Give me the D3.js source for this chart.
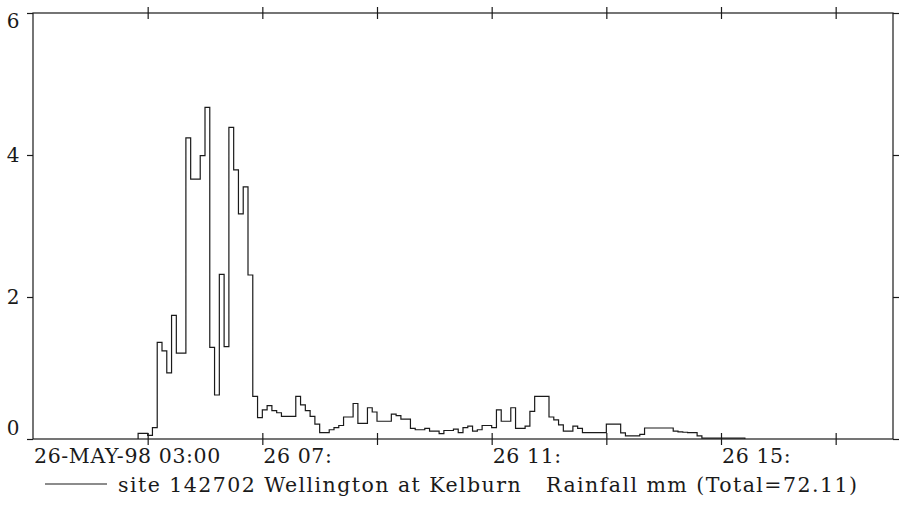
<!DOCTYPE html>
<html>
<head>
<meta charset="utf-8">
<script src="https://cdn.jsdelivr.net/npm/d3@7"></script>
<style>
  html, body { margin: 0; padding: 0; background: #fff; }
  svg { display: block; }
  text { font-family: "DejaVu Serif", "Liberation Serif", serif; fill: #1a1a1a; }
</style>
</head>
<body>
<div id="chart"></div>
<script>
// 5-minute rainfall totals (mm), each value starts at its time, 26-May-1998
const stepTimes = [
  "04:50", "04:55",
  "05:00", "05:05", "05:10", "05:15", "05:20", "05:25", "05:30", "05:35", "05:40", "05:45", "05:50", "05:55",
  "06:00", "06:05", "06:10", "06:15", "06:20", "06:25", "06:30", "06:35", "06:40", "06:45", "06:50", "06:55",
  "07:00", "07:05", "07:10", "07:15", "07:20", "07:25", "07:30", "07:35", "07:40", "07:45", "07:50", "07:55",
  "08:00", "08:05", "08:10", "08:15", "08:20", "08:25", "08:30", "08:35", "08:40", "08:45", "08:50", "08:55",
  "09:00", "09:05", "09:10", "09:15", "09:20", "09:25", "09:30", "09:35", "09:40", "09:45", "09:50", "09:55",
  "10:00", "10:05", "10:10", "10:15", "10:20", "10:25", "10:30", "10:35", "10:40", "10:45", "10:50", "10:55",
  "11:00", "11:05", "11:10", "11:15", "11:20", "11:25", "11:30", "11:35", "11:40", "11:45", "11:50", "11:55",
  "12:00", "12:05", "12:10", "12:15", "12:20", "12:25", "12:30", "12:35", "12:40", "12:45", "12:50", "12:55",
  "13:00", "13:05", "13:10", "13:15", "13:20", "13:25", "13:30", "13:35", "13:40", "13:45", "13:50", "13:55",
  "14:00", "14:05", "14:10", "14:15", "14:20", "14:25", "14:30", "14:35", "14:40", "14:45", "14:50", "14:55",
  "15:00", "15:05", "15:10", "15:15", "15:20"
];
const rainfall = [
  0.08, 0.08,
  0.05, 0.16, 1.36, 1.24, 0.93, 1.74, 1.21, 1.21, 4.24, 3.66, 3.66, 3.99,
  4.67, 1.29, 0.62, 2.32, 1.30, 4.39, 3.79, 3.17, 3.55, 2.31, 0.60, 0.30,
  0.41, 0.47, 0.40, 0.37, 0.32, 0.32, 0.32, 0.60, 0.48, 0.40, 0.32, 0.21,
  0.09, 0.09, 0.13, 0.16, 0.19, 0.31, 0.31, 0.50, 0.22, 0.22, 0.44, 0.38,
  0.25, 0.25, 0.25, 0.35, 0.33, 0.28, 0.28, 0.15, 0.13, 0.13, 0.15, 0.11,
  0.11, 0.075, 0.12, 0.12, 0.14, 0.09, 0.16, 0.18, 0.11, 0.13, 0.19, 0.19,
  0.16, 0.41, 0.25, 0.25, 0.44, 0.15, 0.15, 0.18, 0.39, 0.60, 0.60, 0.60,
  0.31, 0.27, 0.20, 0.11, 0.11, 0.18, 0.15, 0.09, 0.09, 0.09, 0.09, 0.09,
  0.21, 0.21, 0.21, 0.085, 0.045, 0.045, 0.045, 0.065, 0.155, 0.155, 0.155, 0.155,
  0.155, 0.155, 0.11, 0.10, 0.095, 0.09, 0.09, 0.045, 0.012, 0.012, 0.012, 0.012,
  0.012, 0.012, 0.012, 0.012, 0.012
];
const endTime = "15:25";

const timeDomain = ["03:00", "18:00"];
const yTicks = [0, 2, 4, 6];
const xTickTimes = ["05:00", "07:00", "09:00", "11:00", "13:00", "15:00", "17:00"];
const xLabelTimes = ["03:00", "07:00", "11:00", "15:00"];
const xLabelTexts = ["26-MAY-98 03:00", "26 07:", "26 11:", "26 15:"];
const legendText = "site 142702 Wellington at Kelburn   Rainfall mm (Total=72.11)";

const parseTime = t => d3.timeParse("%Y-%m-%d %H:%M")("1998-05-26 " + t);

const width = 899;
const height = 507;
const margin = { top: 13, right: 6, bottom: 68, left: 33 };
const ink = "#1a1a1a";

const svg = d3.select("#chart")
    .append("svg")
    .attr("width", width)
    .attr("height", height);

const x = d3.scaleTime()
    .domain(timeDomain.map(parseTime))
    .range([margin.left, width - margin.right]);

const y = d3.scaleLinear()
    .domain([0, 6])
    .range([height - margin.bottom, margin.top]);

const plotTop = y(6), plotBottom = y(0), plotLeft = x.range()[0], plotRight = x.range()[1];

// frame
svg.append("rect")
    .attr("x", plotLeft)
    .attr("y", plotTop)
    .attr("width", plotRight - plotLeft)
    .attr("height", plotBottom - plotTop)
    .attr("fill", "none")
    .attr("stroke", ink)
    .attr("stroke-width", 1.2);

// time ticks cross the bottom and top edges
const tickDates = xTickTimes.map(parseTime);
[plotBottom, plotTop].forEach(yy => {
    svg.append("g")
        .attr("transform", `translate(0,${yy})`)
        .call(d3.axisBottom(x).tickValues(tickDates).tickFormat("").tickSizeOuter(0))
        .call(g => g.select(".domain").remove())
        .call(g => g.selectAll(".tick line")
            .attr("y1", -6).attr("y2", 6)
            .attr("stroke", ink).attr("stroke-width", 1.2));
});

// rainfall ticks, outward on both sides
svg.append("g")
    .attr("transform", `translate(${plotLeft},0)`)
    .call(d3.axisLeft(y).tickValues(yTicks).tickFormat("").tickSize(6).tickSizeOuter(0))
    .call(g => g.select(".domain").remove())
    .call(g => g.selectAll(".tick line").attr("stroke", ink).attr("stroke-width", 1.2));

svg.append("g")
    .attr("transform", `translate(${plotRight},0)`)
    .call(d3.axisRight(y).tickValues(yTicks).tickFormat("").tickSize(6).tickSizeOuter(0))
    .call(g => g.select(".domain").remove())
    .call(g => g.selectAll(".tick line").attr("stroke", ink).attr("stroke-width", 1.2));

// y labels, the end ones pushed inside the frame
svg.selectAll(".ylabel")
    .data(yTicks)
    .enter()
    .append("text")
    .attr("class", "ylabel")
    .attr("x", 13)
    .attr("y", d => Math.min(Math.max(y(d), plotTop + 8), plotBottom - 11))
    .attr("dy", "0.35em")
    .attr("text-anchor", "middle")
    .attr("font-size", "20px")
    .text(d => d);

// time labels, left aligned on their tick
svg.selectAll(".xlabel")
    .data(xLabelTimes)
    .enter()
    .append("text")
    .attr("class", "xlabel")
    .attr("x", d => x(parseTime(d)) + 1)
    .attr("y", 463)
    .attr("font-size", "20.5px")
    .attr("letter-spacing", "0.6px")
    .style("white-space", "pre")
    .text((d, i) => xLabelTexts[i]);

// step line
const points = [{ date: parseTime(stepTimes[0]), value: 0 }]
    .concat(stepTimes.map((t, i) => ({ date: parseTime(t), value: rainfall[i] })))
    .concat([{ date: parseTime(endTime), value: 0 }]);

const line = d3.line()
    .x(d => x(d.date))
    .y(d => y(d.value))
    .curve(d3.curveStepAfter);

svg.append("path")
    .datum(points)
    .attr("d", line)
    .attr("fill", "none")
    .attr("stroke", ink)
    .attr("stroke-width", 1.2);

// legend
svg.append("line")
    .attr("x1", 45).attr("x2", 107)
    .attr("y1", 484).attr("y2", 484)
    .attr("stroke", ink)
    .attr("stroke-width", 1.2);

svg.append("text")
    .attr("x", 118)
    .attr("y", 492)
    .attr("font-size", "20.5px")
    .attr("letter-spacing", "1.45px")
    .style("white-space", "pre")
    .text(legendText);
</script>
</body>
</html>
